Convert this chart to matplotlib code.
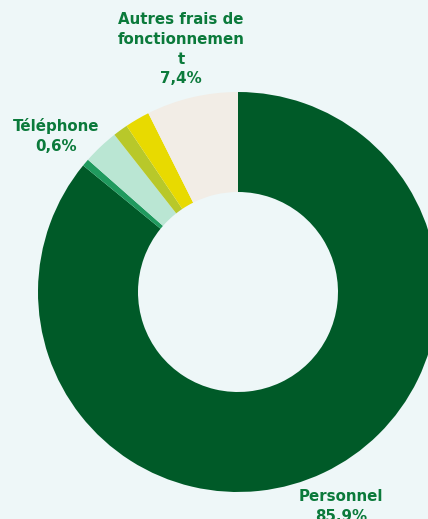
import matplotlib.pyplot as plt

# shares in %, clockwise from 12 o'clock
categories = ["Personnel", "Téléphone", "Poste 3", "Poste 4", "Poste 5",
              "Autres frais de\nfonctionnemen\nt"]
values = [85.9, 0.6, 2.9, 1.2, 2.0, 7.4]
value_labels = ["85,9%", "0,6%", "", "", "", "7,4%"]
colors = ["#005A28", "#209A5E", "#BAE6D3", "#B8C82A", "#E8DA00", "#F2EDE6"]
shown = {0: (341, 489), 1: (56, 118), 5: (181, 12)}  # label anchor (px, top)

W, H = 428, 519
fig = plt.figure(figsize=(W / 100, H / 100), dpi=100)
fig.patch.set_facecolor("#EEF7F8")
ax = fig.add_axes([0, 0, 1, 1])
ax.set_facecolor("#EEF7F8")
ax.axis("off")

ax.pie(values, colors=colors, startangle=90, counterclock=False,
       center=(238, H - 292), radius=200,
       wedgeprops=dict(width=100, linewidth=0))
ax.set_xlim(0, W)
ax.set_ylim(0, H)
ax.set_aspect("equal")

for i, (x, y) in shown.items():
    ax.text(x, H - y, categories[i] + "\n" + value_labels[i],
            ha="center", va="top", fontsize=10.8, fontweight="bold",
            color="#0B7A3B", linespacing=1.4, family="DejaVu Sans")

fig.savefig("out.png", dpi=100, facecolor=fig.get_facecolor())
